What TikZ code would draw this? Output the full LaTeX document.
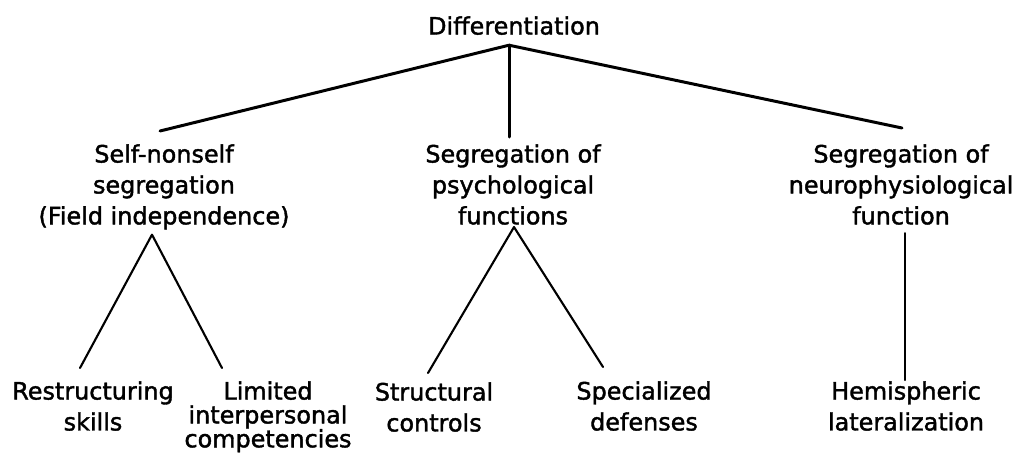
\documentclass[tikz,border=0pt]{standalone}
\usepackage{fontspec}
\setmainfont{DejaVu Sans}[BoldFont={DejaVu Sans}, BoldFeatures={FakeBold=1.6}]
\usetikzlibrary{calc}
\definecolor{ink}{RGB}{0,0,0}

\begin{document}
\begin{tikzpicture}[x=0.02cm, y=-0.02cm,
	label/.style={align=center, anchor=north, inner sep=0pt, color=ink, font=\fontsize{13.6}{17.6}\selectfont\bfseries},
	tight/.style={font=\fontsize{13.6}{13.6}\selectfont\bfseries},
	stem/.style={draw=ink, line width=1.7pt, line cap=round},
	leg/.style={draw=ink, line width=1.2pt, line cap=round}]
	\useasboundingbox (0,0) rectangle (1016,454);
	\node[label] (diff) at (514,16) {Differentiation};
	\node[label] (self) at (164,144) {Self-nonself\\segregation\\(Field independence)};
	\node[label] (psych) at (513,144) {Segregation of\\psychological\\functions};
	\node[label] (neuro) at (901,144) {Segregation of\\neurophysiological\\function};
	\node[label] (restr) at (93,381) {Restructuring\\skills};
	\node[label, tight] (lim) at (268,381) {Limited\\interpersonal\\competencies};
	\node[label] (struct) at (434,382) {Structural\\controls};
	\node[label] (spec) at (644,381) {Specialized\\defenses};
	\node[label] (hemi) at (906,381) {Hemispheric\\lateralization};
	\coordinate (apex) at ($(diff.south)+(-5,10)$);

	% level 1
	\draw[stem] (apex) -- ($(self.north)+(-4,-13)$);
	\draw[stem] (apex) -- ($(psych.north)+(-4,-7)$);
	\draw[stem] (apex) -- ($(neuro.north)+(1,-16)$);
	% self-nonself
	\draw[leg] ($(self.south)+(-12,5)$) -- ($(restr.north)+(-13,-13)$);
	\draw[leg] ($(self.south)+(-12,5)$) -- ($(lim.north)+(-46,-13)$);
	% psychological
	\draw[leg] ($(psych.south)+(1,2)$) -- ($(struct.north)+(-6,-9)$);
	\draw[leg] ($(psych.south)+(1,2)$) -- ($(spec.north)+(-41,-14)$);
	% neurophysiological
	\draw[leg] ($(neuro.south)+(4,8)$) -- ($(hemi.north)+(-1,-1)$);
\end{tikzpicture}
\end{document}
